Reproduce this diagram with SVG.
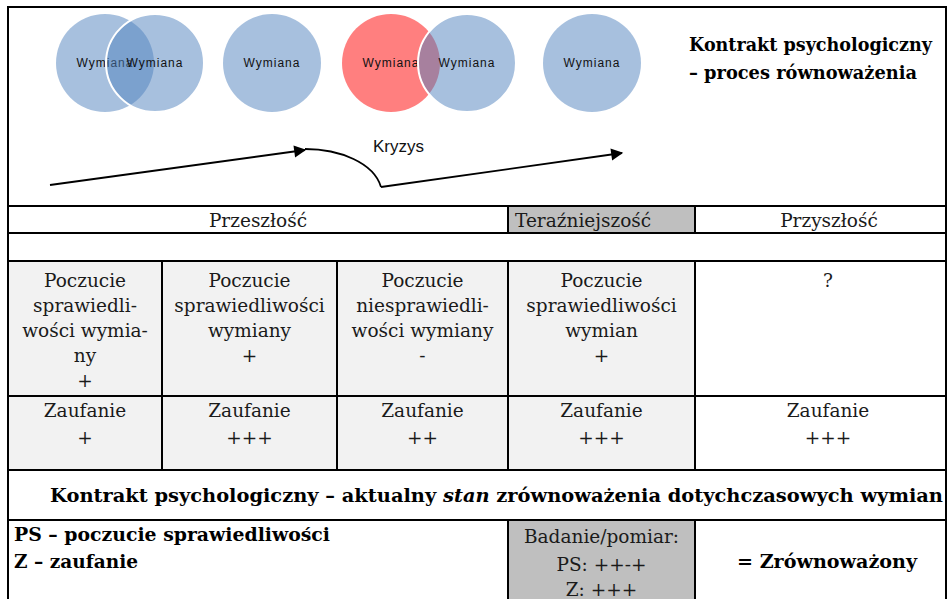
<svg xmlns="http://www.w3.org/2000/svg" width="948" height="599" viewBox="0 0 948 599">
  <defs>
    <marker id="arrowhead" viewBox="0 0 10 10" refX="9" refY="5" markerWidth="17" markerHeight="12" markerUnits="userSpaceOnUse" orient="auto" overflow="visible">
      <path d="M0,0 L10,5 L0,10 z" fill="#000"/>
    </marker>
    <style>
      .bubble { fill: #4f81bd; fill-opacity: 0.5; }
      .bubble-red { fill: #ff0000; fill-opacity: 0.5; }
      .edge { stroke: #fff; stroke-width: 2; }
      .blabel { font-family: "Liberation Sans", Arial, sans-serif; font-size: 12px; letter-spacing: 1px; fill: #111; text-anchor: middle; }
      .grid { stroke: #000; stroke-width: 2; fill: none; }
      .cell { font-family: "DejaVu Serif", "Liberation Serif", serif; font-size: 18.5px; fill: #1a1a1a; text-anchor: middle; }
      .bold { font-family: "DejaVu Serif", "Liberation Serif", serif; font-size: 18px; font-weight: bold; fill: #000; }
      .conn { stroke: #000; stroke-width: 1.8; fill: none; }
      .crisis { font-family: "Liberation Sans", Arial, sans-serif; font-size: 17px; fill: #111; }
      .past { fill: #f2f2f2; }
      .now { fill: #bfbfbf; }
    </style>
  </defs>

  <rect width="948" height="599" fill="#fff"/>

  <!-- exchange bubbles -->
  <g id="exchange-1">
    <circle class="bubble" cx="105" cy="63" r="49"/>
    <text class="blabel" x="105" y="67">Wymiana</text>
  </g>
  <g id="exchange-2">
    <circle class="bubble edge" cx="155" cy="63" r="49"/>
    <text class="blabel" x="155" y="67">Wymiana</text>
  </g>
  <g id="exchange-3">
    <circle class="bubble" cx="272" cy="63" r="49"/>
    <text class="blabel" x="272" y="67">Wymiana</text>
  </g>
  <g id="exchange-4">
    <circle class="bubble-red" cx="391" cy="63" r="49"/>
    <text class="blabel" x="391" y="67">Wymiana</text>
  </g>
  <g id="exchange-5">
    <circle class="bubble edge" cx="467" cy="63" r="49"/>
    <text class="blabel" x="467" y="67">Wymiana</text>
  </g>
  <g id="exchange-6">
    <circle class="bubble" cx="592" cy="63" r="49"/>
    <text class="blabel" x="592" y="67">Wymiana</text>
  </g>

  <g id="title">
    <text class="bold" x="689" y="51" textLength="243" lengthAdjust="spacingAndGlyphs">Kontrakt psychologiczny</text>
    <text class="bold" x="689" y="79" textLength="228" lengthAdjust="spacingAndGlyphs">– proces równoważenia</text>
  </g>

  <!-- timeline arrows -->
  <g id="connectors">
    <path class="conn" d="M50,185 L305,150" marker-end="url(#arrowhead)"/>
    <path class="conn" d="M305,149 C340,149 374,163 381,187"/>
    <path class="conn" d="M381,187 L622,153" marker-end="url(#arrowhead)"/>
  </g>
  <g id="crisis">
    <text class="crisis" x="373" y="152">Kryzys</text>
  </g>

  <!-- cell shading -->
  <rect class="now" x="508" y="206" width="187" height="27"/>
  <rect class="past" x="8" y="261" width="687" height="209"/>
  <rect class="now" x="508" y="520" width="187" height="79"/>

  <!-- table rules -->
  <g id="table-grid">
    <rect class="grid" x="8" y="7" width="938" height="600"/>
    <line class="grid" x1="8" y1="206" x2="946" y2="206"/>
    <line class="grid" x1="8" y1="233" x2="946" y2="233"/>
    <line class="grid" x1="8" y1="261" x2="946" y2="261"/>
    <line class="grid" x1="8" y1="396" x2="946" y2="396"/>
    <line class="grid" x1="8" y1="470" x2="946" y2="470"/>
    <line class="grid" x1="8" y1="520" x2="946" y2="520"/>
    <line class="grid" x1="508" y1="206" x2="508" y2="233"/>
    <line class="grid" x1="695" y1="206" x2="695" y2="233"/>
    <line class="grid" x1="162" y1="261" x2="162" y2="470"/>
    <line class="grid" x1="337" y1="261" x2="337" y2="470"/>
    <line class="grid" x1="508" y1="261" x2="508" y2="470"/>
    <line class="grid" x1="695" y1="261" x2="695" y2="470"/>
    <line class="grid" x1="508" y1="520" x2="508" y2="599"/>
    <line class="grid" x1="695" y1="520" x2="695" y2="599"/>
  </g>

  <!-- period headers -->
  <g id="header-past"><text class="cell" x="258" y="227">Przeszłość</text></g>
  <g id="header-present"><text class="cell" x="515" y="227" style="text-anchor:start">Teraźniejszość</text></g>
  <g id="header-future"><text class="cell" x="829" y="227">Przyszłość</text></g>

  <!-- sense of fairness row -->
  <g id="fairness-1">
    <text class="cell" x="85" y="287">Poczucie</text>
    <text class="cell" x="85" y="312">sprawiedli-</text>
    <text class="cell" x="85" y="337">wości wymia-</text>
    <text class="cell" x="85" y="362">ny</text>
    <text class="cell" x="85" y="387">+</text>
  </g>
  <g id="fairness-2">
    <text class="cell" x="249.5" y="287">Poczucie</text>
    <text class="cell" x="249.5" y="312">sprawiedliwości</text>
    <text class="cell" x="249.5" y="337">wymiany</text>
    <text class="cell" x="249.5" y="362">+</text>
  </g>
  <g id="fairness-3">
    <text class="cell" x="422.5" y="287">Poczucie</text>
    <text class="cell" x="422.5" y="312">niesprawiedli-</text>
    <text class="cell" x="422.5" y="337">wości wymiany</text>
    <text class="cell" x="422.5" y="362">-</text>
  </g>
  <g id="fairness-4">
    <text class="cell" x="601.5" y="287">Poczucie</text>
    <text class="cell" x="601.5" y="312">sprawiedliwości</text>
    <text class="cell" x="601.5" y="337">wymian</text>
    <text class="cell" x="601.5" y="362">+</text>
  </g>
  <g id="fairness-5">
    <text class="cell" x="828" y="287">?</text>
  </g>

  <!-- trust row -->
  <g id="trust-1">
    <text class="cell" x="85" y="417">Zaufanie</text>
    <text class="cell" x="85" y="444">+</text>
  </g>
  <g id="trust-2">
    <text class="cell" x="249.5" y="417">Zaufanie</text>
    <text class="cell" x="249.5" y="444">+++</text>
  </g>
  <g id="trust-3">
    <text class="cell" x="422.5" y="417">Zaufanie</text>
    <text class="cell" x="422.5" y="444">++</text>
  </g>
  <g id="trust-4">
    <text class="cell" x="601.5" y="417">Zaufanie</text>
    <text class="cell" x="601.5" y="444">+++</text>
  </g>
  <g id="trust-5">
    <text class="cell" x="828" y="417">Zaufanie</text>
    <text class="cell" x="828" y="444">+++</text>
  </g>

  <!-- summary -->
  <g id="state-title">
    <text class="bold" x="50" y="502" textLength="893" lengthAdjust="spacingAndGlyphs">Kontrakt psychologiczny – aktualny <tspan font-style="italic">stan</tspan> zrównoważenia dotychczasowych wymian</text>
  </g>
  <g id="legend">
    <text class="bold" x="14" y="541" textLength="316" lengthAdjust="spacingAndGlyphs">PS – poczucie sprawiedliwości</text>
    <text class="bold" x="14" y="568" textLength="124" lengthAdjust="spacingAndGlyphs">Z – zaufanie</text>
  </g>
  <g id="measurement">
    <text class="cell" x="601.5" y="543">Badanie/pomiar:</text>
    <text class="cell" x="601.5" y="571">PS: ++-+</text>
    <text class="cell" x="601.5" y="596">Z: +++</text>
  </g>
  <g id="result">
    <text class="bold" x="737" y="568" textLength="180" lengthAdjust="spacingAndGlyphs">= Zrównoważony</text>
  </g>
</svg>
